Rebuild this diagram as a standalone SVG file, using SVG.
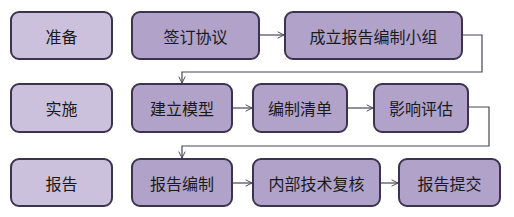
<svg xmlns="http://www.w3.org/2000/svg" width="514" height="217" viewBox="0 0 514 217">
<defs>
<style>
.lbl{fill:#cbc1dd;stroke:#3b3350;stroke-width:2}
.box{fill:#b1a2c9;stroke:#3b3350;stroke-width:2}
.t{font-family:"Noto Sans CJK SC","Liberation Sans",sans-serif;font-size:16px;fill:#1a1a1a;text-anchor:middle;dominant-baseline:central}
.c{fill:none;stroke:#4a4458;stroke-width:1.2}
</style>
<marker id="ah" viewBox="0 0 10 10" refX="9" refY="5" markerWidth="8" markerHeight="8" markerUnits="userSpaceOnUse" orient="auto">
<path d="M1,1 L9,5 L1,9" fill="none" stroke="#4a4458" stroke-width="1.2"/>
</marker>
</defs>
<rect width="514" height="217" fill="#ffffff"/>
<g id="connectors">
<path class="c" d="M259,35 H284" marker-end="url(#ah)"/>
<path class="c" d="M462,35 H482 V72 H182 V83" marker-end="url(#ah)"/>
<path class="c" d="M233,108 H252" marker-end="url(#ah)"/>
<path class="c" d="M348,108 H373" marker-end="url(#ah)"/>
<path class="c" d="M469,107 H489 V146 H182 V158" marker-end="url(#ah)"/>
<path class="c" d="M233,183 H252" marker-end="url(#ah)"/>
<path class="c" d="M381,183 H398" marker-end="url(#ah)"/>
</g>
<g id="n_prep"><rect class="lbl" x="11" y="12" width="101" height="47" rx="8"/><text class="t" x="61.5" y="35.5">准备</text></g>
<g id="n_sign"><rect class="box" x="132" y="12" width="127" height="47" rx="8"/><text class="t" x="195.5" y="35.5">签订协议</text></g>
<g id="n_group"><rect class="box" x="285" y="12" width="177" height="47" rx="8"/><text class="t" x="373.5" y="35.5">成立报告编制小组</text></g>
<g id="n_impl"><rect class="lbl" x="11" y="84" width="101" height="48" rx="8"/><text class="t" x="61.5" y="108">实施</text></g>
<g id="n_model"><rect class="box" x="132" y="84" width="100" height="48" rx="8"/><text class="t" x="182" y="108">建立模型</text></g>
<g id="n_list"><rect class="box" x="253" y="84" width="94" height="48" rx="8"/><text class="t" x="300" y="108">编制清单</text></g>
<g id="n_eval"><rect class="box" x="374" y="84" width="94" height="48" rx="8"/><text class="t" x="421" y="108">影响评估</text></g>
<g id="n_report"><rect class="lbl" x="11" y="159" width="101" height="47" rx="8"/><text class="t" x="61.5" y="182.5">报告</text></g>
<g id="n_write"><rect class="box" x="132" y="159" width="100" height="47" rx="8"/><text class="t" x="182" y="182.5">报告编制</text></g>
<g id="n_review"><rect class="box" x="253" y="159" width="127" height="47" rx="8"/><text class="t" x="316.5" y="182.5">内部技术复核</text></g>
<g id="n_submit"><rect class="box" x="399" y="159" width="101" height="47" rx="8"/><text class="t" x="449.5" y="182.5">报告提交</text></g>
</svg>
